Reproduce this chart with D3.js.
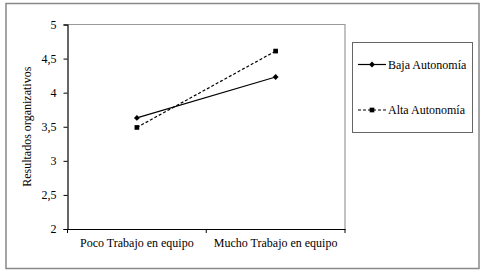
<!DOCTYPE html>
<html><head><meta charset="utf-8">
<script src="https://cdn.jsdelivr.net/npm/d3@7"></script>
<style>body{margin:0;background:#fff}svg{display:block}svg text{font-family:"Liberation Serif","Times New Roman","DejaVu Serif",serif !important;fill:#000}</style>
</head><body><svg id="c" width="483" height="274"></svg>
<script>
const categories = ["Poco Trabajo en equipo", "Mucho Trabajo en equipo"];
const seriesNames = ["Baja Autonomía", "Alta Autonomía"];
const bajaValues = [3.63, 4.23];
const altaValues = [3.49, 4.61];
const yTicks = [2, 2.5, 3, 3.5, 4, 4.5, 5];

const FS = "12px";
const svg = d3.select("#c");
const m = {l: 67.5, t: 24.5, r: 345, b: 229};
const x = d3.scaleBand().domain(categories).range([m.l, m.r]);
const y = d3.scaleLinear().domain([2, 5]).range([m.b, m.t]);
const fmt = d => String(d).replace(".", ",");

// outer border
svg.append("rect").attr("x", 6).attr("y", 3.5).attr("width", 473).attr("height", 265)
  .attr("fill", "none").attr("stroke", "#888").attr("stroke-width", 1.5);

// plot border (top/right gray)
svg.append("path").attr("d", `M${m.l},${m.t}H${m.r}V${m.b}`).attr("fill", "none")
  .attr("stroke", "#999").attr("stroke-width", 1.2);

// y axis
const ya = svg.append("g").attr("transform", `translate(${m.l},0)`)
  .call(d3.axisLeft(y).tickValues(yTicks).tickFormat(fmt).tickSize(4).tickPadding(7));
ya.attr("font-family", null).attr("font-size", null);
ya.select(".domain").attr("stroke", "#000").attr("stroke-width", 1.2);
ya.selectAll(".tick line").attr("stroke", "#000");
ya.selectAll("text").style("font-size", FS);

// x axis
const xa = svg.append("g").attr("transform", `translate(0,${m.b})`)
  .call(d3.axisBottom(x).tickSize(0).tickPadding(9));
xa.attr("font-family", null).attr("font-size", null);
xa.select(".domain").attr("stroke", "#000").attr("stroke-width", 1.2);
xa.selectAll("text").style("font-size", FS);
const bounds = [m.l, x(categories[1]), m.r];
svg.append("g").selectAll("line").data(bounds).join("line")
  .attr("x1", d => d).attr("x2", d => d).attr("y1", m.b).attr("y2", m.b + 4)
  .attr("stroke", "#000");

// y label
svg.append("text").attr("transform", `translate(31,${(m.t + m.b) / 2}) rotate(-90)`)
  .attr("text-anchor", "middle").style("font-size", FS).text("Resultados organizativos");

const cx = d => x(d) + x.bandwidth() / 2;
const line = d3.line().x(d => cx(d[0])).y(d => y(d[1]));
const series = [
  {name: seriesNames[0], vals: bajaValues, dash: null, sym: d3.symbolDiamond2},
  {name: seriesNames[1], vals: altaValues, dash: "3,2", sym: d3.symbolSquare}
];
series.forEach(s => {
  const pts = categories.map((c, i) => [c, s.vals[i]]);
  svg.append("path").attr("d", line(pts)).attr("fill", "none").attr("stroke", "#000")
    .attr("stroke-width", 1.2).attr("stroke-dasharray", s.dash);
  svg.append("g").selectAll("path").data(pts).join("path")
    .attr("transform", d => `translate(${cx(d[0])},${y(d[1])})`)
    .attr("d", d3.symbol(s.sym, 22)).attr("fill", "#000");
});

// legend
svg.append("rect").attr("x", 352.5).attr("y", 42.5).attr("width", 120).attr("height", 90)
  .attr("fill", "#fff").attr("stroke", "#666").attr("stroke-width", 1);
const ly = [64.5, 110];
series.forEach((s, i) => {
  svg.append("line").attr("x1", 358).attr("x2", 386).attr("y1", ly[i]).attr("y2", ly[i])
    .attr("stroke", "#000").attr("stroke-width", 1.2).attr("stroke-dasharray", s.dash);
  svg.append("path").attr("transform", `translate(372,${ly[i]})`)
    .attr("d", d3.symbol(s.sym, 22)).attr("fill", "#000");
  svg.append("text").attr("x", 388).attr("y", ly[i]).attr("dy", "0.35em")
    .style("font-size", FS).text(s.name);
});
</script></body></html>
